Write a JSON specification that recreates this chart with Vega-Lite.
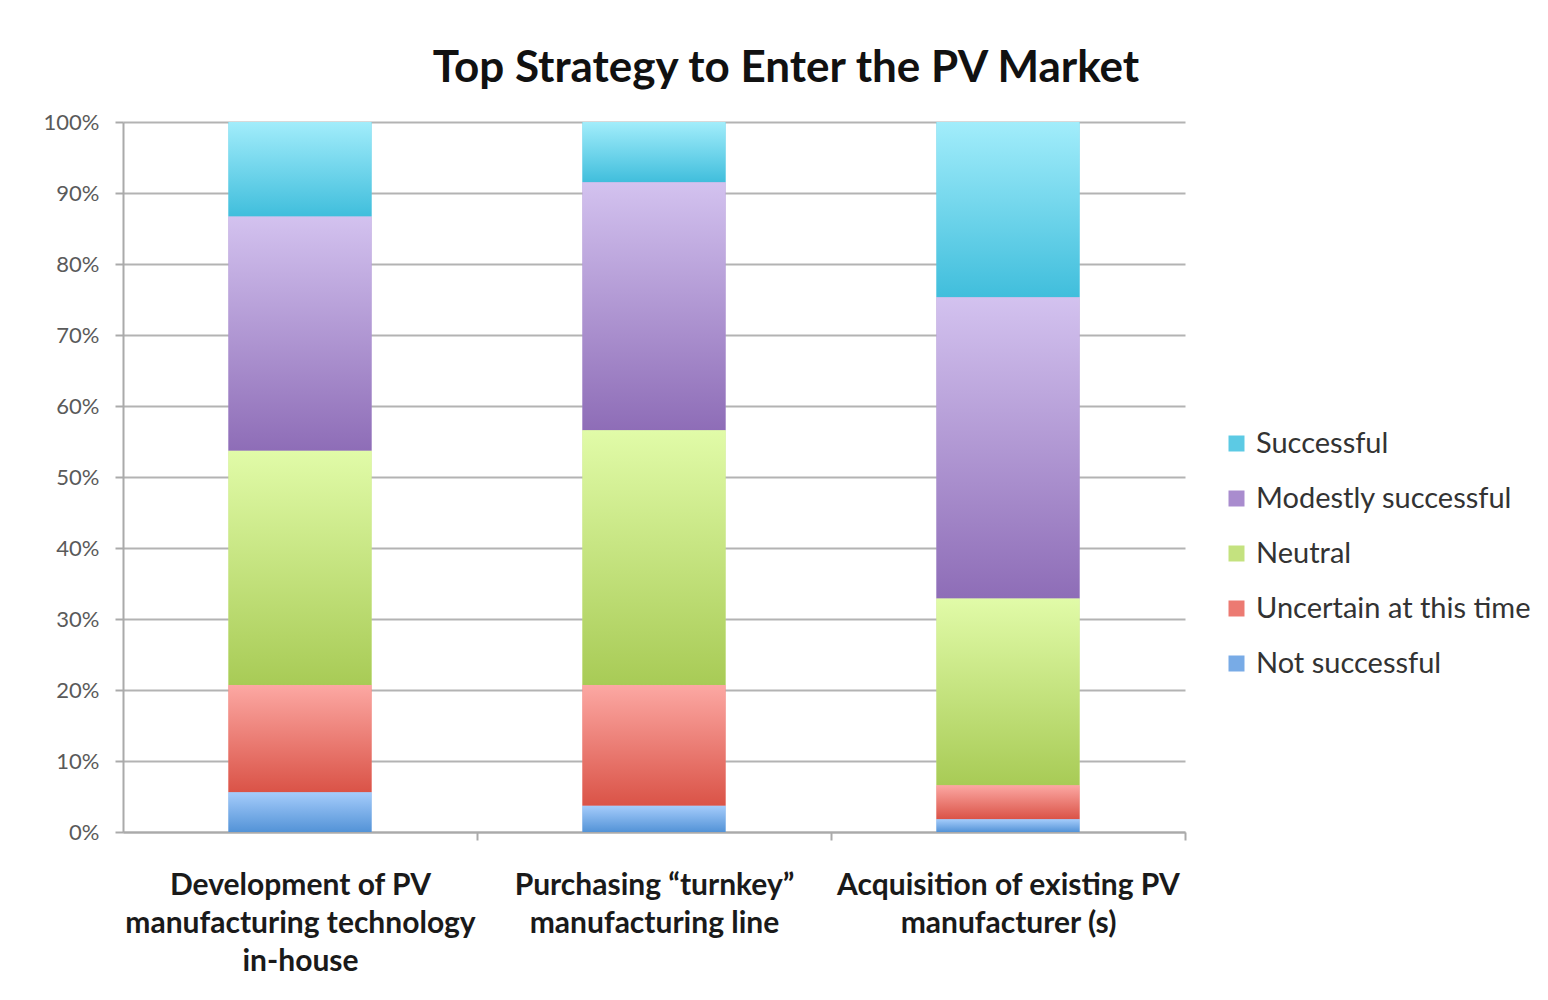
{
  "$schema": "https://vega.github.io/schema/vega-lite/v6.json",
  "autosize": {"type": "none"},
  "padding": {"left": 123, "top": 122, "right": 363, "bottom": 168},
  "width": 1062,
  "height": 710,
  "background": "white",
  "title": {
    "text": "Top Strategy to Enter the PV Market",
    "font": "Lato",
    "fontSize": 44,
    "fontWeight": "bold",
    "color": "#111111",
    "anchor": "middle",
    "dx": 132,
    "offset": 20
  },
  "data": {
    "values": [
      {"strategy": "Development of  PV|manufacturing technology|in-house", "rank": 1, "response": "Not successful", "ord": 1, "pct": 5.6},
      {"strategy": "Development of  PV|manufacturing technology|in-house", "rank": 1, "response": "Uncertain at this time", "ord": 2, "pct": 15.1},
      {"strategy": "Development of  PV|manufacturing technology|in-house", "rank": 1, "response": "Neutral", "ord": 3, "pct": 33.0},
      {"strategy": "Development of  PV|manufacturing technology|in-house", "rank": 1, "response": "Modestly successful", "ord": 4, "pct": 33.0},
      {"strategy": "Development of  PV|manufacturing technology|in-house", "rank": 1, "response": "Successful", "ord": 5, "pct": 13.3},
      {"strategy": "Purchasing “turnkey”|manufacturing line", "rank": 2, "response": "Not successful", "ord": 1, "pct": 3.7},
      {"strategy": "Purchasing “turnkey”|manufacturing line", "rank": 2, "response": "Uncertain at this time", "ord": 2, "pct": 17.0},
      {"strategy": "Purchasing “turnkey”|manufacturing line", "rank": 2, "response": "Neutral", "ord": 3, "pct": 35.9},
      {"strategy": "Purchasing “turnkey”|manufacturing line", "rank": 2, "response": "Modestly successful", "ord": 4, "pct": 34.9},
      {"strategy": "Purchasing “turnkey”|manufacturing line", "rank": 2, "response": "Successful", "ord": 5, "pct": 8.5},
      {"strategy": "Acquisition of existing PV|manufacturer (s)", "rank": 3, "response": "Not successful", "ord": 1, "pct": 1.8},
      {"strategy": "Acquisition of existing PV|manufacturer (s)", "rank": 3, "response": "Uncertain at this time", "ord": 2, "pct": 4.8},
      {"strategy": "Acquisition of existing PV|manufacturer (s)", "rank": 3, "response": "Neutral", "ord": 3, "pct": 26.3},
      {"strategy": "Acquisition of existing PV|manufacturer (s)", "rank": 3, "response": "Modestly successful", "ord": 4, "pct": 42.4},
      {"strategy": "Acquisition of existing PV|manufacturer (s)", "rank": 3, "response": "Successful", "ord": 5, "pct": 24.7}
    ]
  },
  "transform": [
    {"stack": "pct", "groupby": ["strategy"], "sort": [{"field": "ord", "order": "ascending"}], "as": ["lo", "hi"], "offset": "normalize"}
  ],
  "encoding": {
    "x": {
      "field": "strategy",
      "type": "nominal",
      "sort": {"field": "rank"},
      "scale": {"paddingInner": 0.596, "paddingOuter": 0.298},
      "axis": {
        "title": null,
        "labelAngle": 0,
        "labelExpr": "split(datum.label, '|')",
        "labelFont": "Lato",
        "labelFontSize": 30,
        "labelFontWeight": "bold",
        "labelColor": "#1a1a1a",
        "labelLineHeight": 38,
        "labelLimit": 500,
        "labelPadding": 30,
        "labelBaseline": "top",
        "labelOffset": -177,
        "tickBand": "center",
        "tickOffset": 177,
        "tickSize": 8,
        "tickColor": "#aaaaaa",
        "tickWidth": 2,
        "domainColor": "#aaaaaa",
        "domainWidth": 2,
        "grid": false
      }
    },
    "y": {
      "field": "hi",
      "type": "quantitative",
      "scale": {"domain": [0, 1], "nice": false},
      "axis": {
        "title": null,
        "format": ".0%",
        "values": [0, 0.1, 0.2, 0.3, 0.4, 0.5, 0.6, 0.7, 0.8, 0.9, 1],
        "labelFont": "Lato",
        "labelFontSize": 22,
        "labelColor": "#5a5a5a",
        "labelPadding": 16,
        "tickSize": 8,
        "tickColor": "#aaaaaa",
        "tickWidth": 2,
        "domainColor": "#aaaaaa",
        "domainWidth": 2,
        "grid": true,
        "gridColor": "#b3b3b3",
        "gridWidth": 2
      }
    },
    "y2": {"field": "lo"}
  },
  "layer": [
    {
      "mark": {"type": "bar"},
      "encoding": {
        "color": {
          "field": "response",
          "type": "nominal",
          "scale": {
            "domain": ["Successful", "Modestly successful", "Neutral", "Uncertain at this time", "Not successful"],
            "range": ["#5ccae4", "#a98cce", "#c4e27f", "#ec7a72", "#78abe6"]
          },
          "legend": {
            "title": null,
            "orient": "none",
            "legendX": 1099,
            "legendY": 307,
            "symbolType": "square",
            "symbolSize": 256,
            "symbolStrokeWidth": 0,
            "symbolOpacity": 1,
            "labelFont": "Lato",
            "labelFontSize": 29,
            "labelColor": "#333333",
            "labelOffset": 5,
            "rowPadding": 25,
            "labelLimit": 400
          }
        }
      }
    },
    {
      "transform": [{"filter": "datum.response === 'Successful'"}],
      "mark": {"type": "bar", "fill": {"gradient": "linear", "x1": 0, "y1": 0, "x2": 0, "y2": 1, "stops": [{"offset": 0, "color": "#a2edfb"}, {"offset": 1, "color": "#40bedc"}]}}
    },
    {
      "transform": [{"filter": "datum.response === 'Modestly successful'"}],
      "mark": {"type": "bar", "fill": {"gradient": "linear", "x1": 0, "y1": 0, "x2": 0, "y2": 1, "stops": [{"offset": 0, "color": "#d3c2ef"}, {"offset": 1, "color": "#8e6db7"}]}}
    },
    {
      "transform": [{"filter": "datum.response === 'Neutral'"}],
      "mark": {"type": "bar", "fill": {"gradient": "linear", "x1": 0, "y1": 0, "x2": 0, "y2": 1, "stops": [{"offset": 0, "color": "#e1fba8"}, {"offset": 1, "color": "#a8cb56"}]}}
    },
    {
      "transform": [{"filter": "datum.response === 'Uncertain at this time'"}],
      "mark": {"type": "bar", "fill": {"gradient": "linear", "x1": 0, "y1": 0, "x2": 0, "y2": 1, "stops": [{"offset": 0, "color": "#fca8a3"}, {"offset": 1, "color": "#da5347"}]}}
    },
    {
      "transform": [{"filter": "datum.response === 'Not successful'"}],
      "mark": {"type": "bar", "fill": {"gradient": "linear", "x1": 0, "y1": 0, "x2": 0, "y2": 1, "stops": [{"offset": 0, "color": "#a5ccfb"}, {"offset": 1, "color": "#5393d7"}]}}
    }
  ],
  "config": {"view": {"stroke": null}}
}
